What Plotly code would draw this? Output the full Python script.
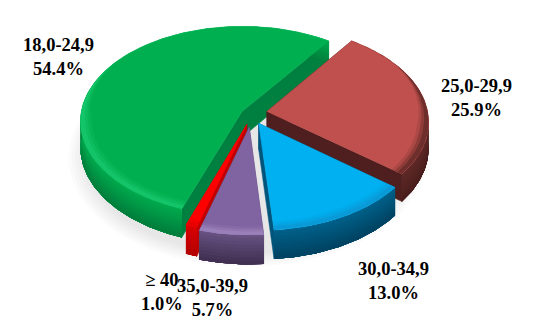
import numpy as np
import plotly.graph_objects as go

categories = ["18,0-24,9", "25,0-29,9", "30,0-34,9", "35,0-39,9", "≥ 40"]
values = [54.4, 25.9, 13.0, 5.7, 1.0]
pulls = [0.035, 0.125, 0.10, 0.11, 0.085]
nudge_u = [0.0, 0.0, 0.025, 0.025, 0.025]
nudge_v = [0.0, 0.0, 0.02, 0.04, 0.04]
top_colors = ["#00B050", "#C0504D", "#00B0F0", "#8064A2", "#FF0000"]
rim_colors = ["#14C468", "#6E2F2C", "#0A9AD8", "#9A80B8", "#E80000"]
wall_top = ["#00A84C", "#5E2826", "#005F88", "#65507F", "#D80000"]
wall_bot = ["#007A3A", "#471D1C", "#00405E", "#3C2C4C", "#B00000"]
face_colors = ["#008040", "#4E1F1E", "#00557C", "#54406C", "#C00000"]
draw_order = [0, 1, 2, 4, 3]
label_xy = [(58, 57), (476, 98), (393, 281), (212, 298), (162, 292)]

START = 35.5
CX, CY, RX, RY, K, DEPTH = 247.0, 113.0, 161.0, 94.0, 0.10, 26.0


def proj(u, v, dz=0.0):
    w = 1.0 / (1.0 - K * np.asarray(v))
    return CX + RX * np.asarray(u) * w, CY + RY * np.asarray(v) * w + dz * w


def hexmix(a, b, t):
    ca = [int(a[i:i + 2], 16) for i in (1, 3, 5)]
    cb = [int(b[i:i + 2], 16) for i in (1, 3, 5)]
    return "rgb(%d,%d,%d)" % tuple(round(x + (y - x) * t) for x, y in zip(ca, cb))


fig = go.Figure()


def poly(x, y, color, opacity=1.0, lw=0.5):
    fig.add_trace(go.Scatter(
        x=np.append(x, x[0]), y=np.append(y, y[0]), mode="lines", fill="toself",
        fillcolor=color, opacity=opacity, line=dict(color=color, width=lw),
        hoverinfo="skip", showlegend=False))


# soft shadow
th = np.radians(np.linspace(0, 360, 181))
for s in np.linspace(1.10, 1.0, 6):
    sx, sy = proj(s * np.sin(th), 0.02 - s * np.cos(th), DEPTH + 5)
    poly(sx, sy, "#808080", 0.035, 0)

total = sum(values)
edges = START + np.cumsum([0] + [v / total * 360 for v in np.roll(values, -1)])
ranges = {}
for n, i in enumerate([1, 2, 3, 4, 0]):
    ranges[i] = (edges[n], edges[n + 1])

for i in draw_order:
    a0, a1 = ranges[i]
    mid = np.radians((a0 + a1) / 2)
    pu = pulls[i] * np.sin(mid) + nudge_u[i]
    pv = -pulls[i] * np.cos(mid) + nudge_v[i]
    a = np.radians(np.linspace(a0, a1, max(8, int(a1 - a0))))
    us, vs = np.sin(a) + pu, -np.cos(a) + pv

    for ang in (a0, a1):
        ue, ve = np.sin(np.radians(ang)) + pu, -np.cos(np.radians(ang)) + pv
        x1, y1 = proj(pu, pv)
        x2, y2 = proj(ue, ve)
        x3, y3 = proj(ue, ve, DEPTH)
        x4, y4 = proj(pu, pv, DEPTH)
        poly(np.array([x1, x2, x3, x4]), np.array([y1, y2, y3, y4]), face_colors[i])

    # outer wall: each band paints down to the foot, the next overlays it
    xb, yb = proj(us, vs, DEPTH)
    for t0 in np.linspace(0, 1, 10)[:-1]:
        xa, ya = proj(us, vs, DEPTH * t0)
        poly(np.r_[xa, xb[::-1]], np.r_[ya, yb[::-1]],
             hexmix(wall_top[i], wall_bot[i], t0), lw=0)

    x, y = proj(np.r_[pu, us], np.r_[pv, vs])
    poly(x, y, top_colors[i])

    # bevel: tapers away toward the back of the pie
    strength = np.clip((-np.cos(a) + 0.55) / 0.7, 0, 1)
    xr, yr = proj(us, vs)
    for thick, m in [(0.07, 0.25), (0.05, 0.6), (0.03, 1.0)]:
        r0 = 1 - thick * strength
        xa, ya = proj(r0 * np.sin(a) + pu, -r0 * np.cos(a) + pv)
        poly(np.r_[xa, xr[::-1]], np.r_[ya, yr[::-1]],
             hexmix(top_colors[i], rim_colors[i], m), lw=0)

for name, val, (lx, ly) in zip(categories, values, label_xy):
    fig.add_annotation(x=lx, y=ly, text=f"<b>{name}<br>{val:.1f}%</b>", showarrow=False,
                       font=dict(family="Liberation Serif", size=18.5, color="black"),
                       align="center", xanchor="center", yanchor="middle")

fig.update_xaxes(visible=False, range=[0, 538], fixedrange=True)
fig.update_yaxes(visible=False, range=[335, 0], fixedrange=True)
fig.update_layout(width=538, height=335, margin=dict(l=0, r=0, t=0, b=0),
                  paper_bgcolor="white", plot_bgcolor="white", showlegend=False)
fig.write_html("out.html", config={"displayModeBar": False},
               post_script="document.body.style.margin='0';")
